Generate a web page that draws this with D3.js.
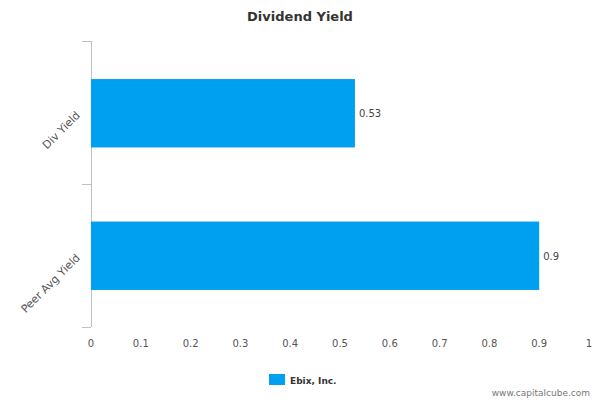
<!DOCTYPE html>
<html><head><meta charset="utf-8">
<script src="https://cdn.jsdelivr.net/npm/d3@7"></script>
<style>body{margin:0;background:#fff}text{font-family:"DejaVu Sans",sans-serif}</style>
</head><body><svg id="c" width="600" height="400"></svg>
<script>
const categories = ["Div Yield", "Peer Avg Yield"];
const values = [0.53, 0.9];
const ticks = [0,0.1,0.2,0.3,0.4,0.5,0.6,0.7,0.8,0.9,1];
const seriesName = "Ebix, Inc.";
const color = "#00a0f0";

const svg = d3.select("#c");
const x = d3.scaleLinear().domain([0,1]).range([91,589]);
const y = d3.scaleBand().domain(categories).range([42,327]).paddingInner(0.52).paddingOuter(0.26);

svg.append("text").attr("x",300).attr("y",21).attr("text-anchor","middle")
  .attr("font-size",13).attr("font-weight","bold").attr("fill","#333").text("Dividend Yield");

// y axis line and ticks
svg.append("line").attr("x1",91.5).attr("x2",91.5).attr("y1",41).attr("y2",327).attr("stroke","#c0c0c0");
[41, 184, 327].forEach(v=>svg.append("line").attr("x1",82).attr("x2",91).attr("y1",v+0.5).attr("y2",v+0.5).attr("stroke","#c0c0c0"));

svg.selectAll("rect.bar").data(values).enter().append("rect").attr("class","bar")
  .attr("x",x(0)).attr("y",(d,i)=>y(categories[i])).attr("width",d=>x(d)-x(0))
  .attr("height",y.bandwidth()).attr("fill",color);

svg.selectAll("text.val").data(values).enter().append("text").attr("class","val")
  .attr("x",d=>x(d)+4).attr("y",(d,i)=>y(categories[i])+y.bandwidth()/2+4)
  .attr("font-size",10).attr("fill","#444").text(d=>d);

categories.forEach(c=>{
  const cy = y(c)+y.bandwidth()/2;
  svg.append("text").attr("transform",`translate(78,${cy}) rotate(-45)`)
    .attr("text-anchor","end").attr("dy","0.35em").attr("font-size",11).attr("fill","#555").text(c);
});

svg.selectAll("text.xt").data(ticks).enter().append("text").attr("class","xt")
  .attr("x",d=>x(d)).attr("y",347).attr("text-anchor","middle")
  .attr("font-size",10).attr("fill","#555").text(d=>d);

svg.append("rect").attr("x",269).attr("y",374).attr("width",16).attr("height",11).attr("fill",color);
svg.append("text").attr("x",290).attr("y",384).attr("font-size",9).attr("font-weight","bold").attr("fill","#333").text(seriesName);

svg.append("text").attr("x",590).attr("y",396).attr("text-anchor","end").attr("font-size",9).attr("fill","#777").text("www.capitalcube.com");
</script></body></html>
